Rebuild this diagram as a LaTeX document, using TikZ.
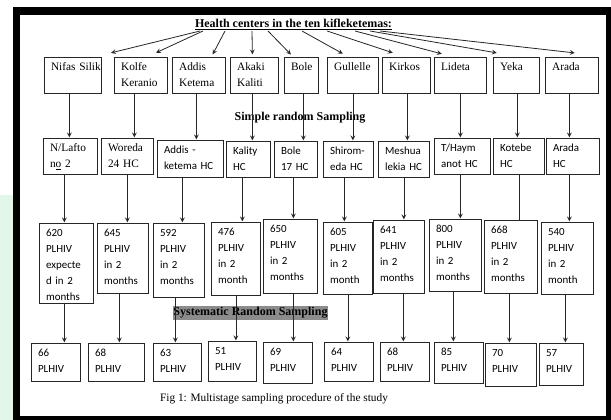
\documentclass[tikz,border=0pt]{standalone}
\usepackage{fontspec}
\setmainfont{Liberation Serif}
\setsansfont{Carlito}
\usetikzlibrary{arrows, calc}
\definecolor{mint}{HTML}{E3F6EA}
\newcommand{\thickul}[1]{\setbox0\hbox{#1}\rlap{\rule[-1.6pt]{\wd0}{0.75pt}}\box0}
\tikzstyle{arrow} = [->,>=stealth, line width=0.6pt, draw=black!85, shorten >=0.5pt]
\tikzstyle{link} = [line width=0.6pt, draw=black!85]
\tikzset{
	cell/.style 2 args={draw=black!85, line width=0.6pt, anchor=north west, inner xsep=5pt, inner ysep=4pt, align=left, text width={#1*0.75pt-10pt}, text height=6pt, text depth={#2*0.75pt-14pt}},
	serifbox/.style 2 args={cell={#1}{#2}, font=\fontsize{8.5}{11.5}\selectfont},
	sansbox/.style 2 args={cell={#1}{#2}, font=\sffamily\fontsize{8.2}{11.5}\selectfont},
	countbox/.style 2 args={cell={#1}{#2}, font=\sffamily\fontsize{8.2}{12}\selectfont},
	heading/.style={font=\bfseries\fontsize{9}{11}\selectfont, anchor=base, inner sep=0pt}
}

\begin{document}
\begin{tikzpicture}[x=0.75pt, y=-0.75pt]

		\useasboundingbox (0,0) rectangle (611,420);
		\fill[white] (0,0) rectangle (611,420);
		\fill[mint] (0,195) rectangle (13,420);
		% Frame
		\fill[black] (13,7) rectangle (611,420);
		\fill[white] (20,15) rectangle (606,416);

		% Title
		\node (title) [heading] at (293.5,28) {\thickul{Health centers in the ten kifleketemas:}};

		% Sub cities
		\node (nifas) [serifbox={57}{36}] at (44,57) {\mbox{Nifas Silik}};
		\node (kolfe) [serifbox={53}{36}] at (114,57) {Kolfe\\Keranio};
		\node (addis) [serifbox={53}{36}] at (172,57) {Addis\\Ketema};
		\node (akaki) [serifbox={48}{36}] at (230,57) {Akaki\\Kaliti};
		\node (bole) [serifbox={34}{36}] at (284,57) {Bole};
		\node (gullelle) [serifbox={51}{36}] at (327,57) {\mbox{Gullelle}};
		\node (kirkos) [serifbox={48}{36}] at (382,57) {Kirkos};
		\node (lideta) [serifbox={52}{36}] at (434,57) {Lideta};
		\node (yeka) [serifbox={46}{36}] at (493,57) {Yeka};
		\node (arada) [serifbox={53}{36}] at (545,57) {Arada};

		\node (simple) [heading] at (300,121) {Simple random Sampling};

		% Health centers
		\node (lafto) [serifbox={54}{36}] at (43,138) {N/Lafto\\n\underline{o} 2};
		\node (woreda) [serifbox={52}{36}] at (101,138) {Woreda\\24 HC};
		\node (addishc) [sansbox={66}{37}] at (157,140) {Addis -\\ketema HC};
		\node (kality) [sansbox={44}{36}] at (226,141) {Kality\\HC};
		\node (bolehc) [sansbox={43}{36}] at (274,141) {Bole\\17 HC};
		\node (shiro) [sansbox={50}{36}] at (323,141) {Shirom-\\eda HC};
		\node (meshua) [sansbox={51}{36}] at (378,141) {Meshua\\lekia HC};
		\node (thaym) [sansbox={56}{36}] at (434,138) {T/Haym\\anot HC};
		\node (kotebe) [sansbox={51}{36}] at (493,138) {Kotebe\\HC};
		\node (aradahc) [sansbox={53}{36}] at (546,138) {Arada\\HC};

		% PLHIV in 2 months
		\node (p620) [countbox={54}{80}] at (39,223) {620\\PLHIV\\expecte\\d in 2\\months};
		\node (p645) [countbox={51}{70}] at (97,223) {645\\PLHIV\\in 2\\months};
		\node (p592) [countbox={51}{74}] at (153,223) {592\\PLHIV\\in 2\\months};
		\node (p476) [countbox={49}{73}] at (211,222) {476\\PLHIV\\in 2\\month};
		\node (p650) [countbox={54}{74}] at (263,219) {650\\PLHIV\\in 2\\months};
		\node (p605) [countbox={49}{72}] at (323,222) {605\\PLHIV\\in 2\\month};
		\node (p641) [countbox={51}{73}] at (373,220) {641\\PLHIV\\in 2\\months};
		\node (p800) [countbox={52}{72}] at (429,219) {800\\PLHIV\\in 2\\months};
		\node (p668) [countbox={53}{73}] at (484,220) {668\\PLHIV\\in 2\\months};
		\node (p540) [countbox={52}{72}] at (541,222) {540\\PLHIV\\in 2\\month};

		\node (systematic) [heading, fill=black!45, inner xsep=0.5pt, inner ysep=0.75pt, text height=7pt, text depth=2pt] at (250.5,316) {Systematic Random Sampling};

		% Samples
		\node (s66) [sansbox={49}{38}] at (31,343) {66\\PLHIV};
		\node (s68a) [sansbox={56}{38}] at (88,343) {68\\PLHIV};
		\node (s63) [sansbox={48}{38}] at (153,343) {63\\PLHIV};
		\node (s51) [sansbox={48}{40}] at (208,341) {51\\PLHIV};
		\node (s69) [sansbox={49}{41}] at (263,342) {69\\PLHIV};
		\node (s64) [sansbox={49}{39}] at (324,342) {64\\PLHIV};
		\node (s68b) [sansbox={49}{39}] at (380,342) {68\\PLHIV};
		\node (s85) [sansbox={49}{41}] at (434,342) {85\\PLHIV};
		\node (s70) [sansbox={51}{43}] at (485,343) {70\\PLHIV};
		\node (s57) [sansbox={44}{42}] at (539,343) {57\\PLHIV};

		\node (caption) [font=\fontsize{8.5}{10}\selectfont, anchor=base, inner sep=0pt] at (274,402) {Fig 1: Multistage sampling procedure of the study};

		% Arrows
		\foreach \b/\sx/\tx/\ty in {nifas/-93.5/37.5/-4, kolfe/-90.5/14.5/-4, addis/-68.5/13.5/-2, akaki/-41.5/-2/-2, bole/-25.5/-10/-2, gullelle/8.5/-9.5/-3, kirkos/33.5/-13/-4, lideta/61.5/-18/-3, yeka/76.5/-19/-4, arada/86.5/3.5/-4}
			\draw [arrow] ($(title.base)+(\sx,3)$) -- ($(\b.north)+(\tx,\ty)$);

		\foreach \a/\b/\dx in {nifas/lafto/-3.5, kolfe/woreda/-6.5, addis/addishc/-2.5, akaki/kality/-2, bole/bolehc/2, gullelle/shiro/0, kirkos/meshua/1, lideta/thaym/0, yeka/kotebe/1, arada/aradahc/-2.5,
			lafto/p620/-6, woreda/p645/0, addishc/p592/-8, kality/p476/-6, bolehc/p650/-2.5, shiro/p605/-4, meshua/p641/0, thaym/p800/-2, aradahc/p540/-3.5,
			p620/s66/-2, p645/s68a/-3.5, p592/s63/-3.5, p476/s51/0, p650/s69/3, p605/s64/0, p641/s68b/4.5, p800/s85/-2, p668/s70/-1.5, p540/s57/-2}
			\draw [arrow] ($(\a.south)+(\dx,0)$) -- ($(\a.south |- \b.north)+(\dx,0)$);
		\draw [link] (kotebe.south) -- (kotebe.south |- p668.north);

\end{tikzpicture}
\end{document}
